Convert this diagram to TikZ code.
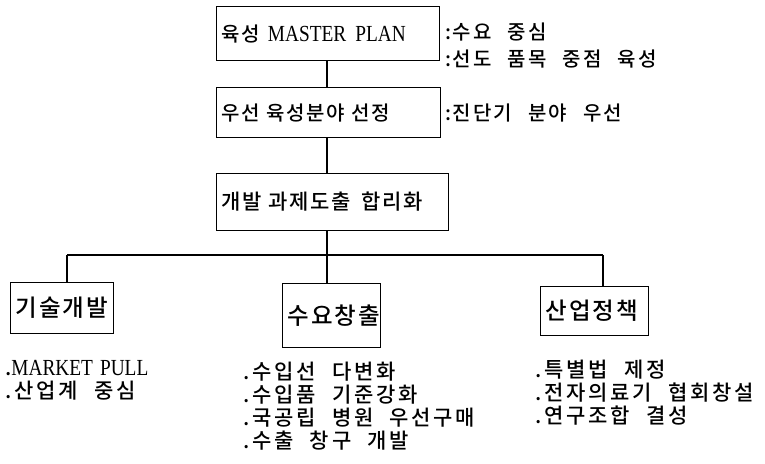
\documentclass[tikz,border=0pt]{standalone}
\usepackage{fontspec}
\setmainfont{Noto Sans CJK KR}[UprightFont=* Medium, WordSpace=2.6]
\newfontfamily\krA{Noto Sans CJK KR}[UprightFont=* Medium, WordSpace=2.4, LetterSpace=8]
\newfontfamily\krN{Noto Sans CJK KR}[UprightFont=* Medium, WordSpace=2.6, LetterSpace=9]
\newfontfamily\krB{Noto Sans CJK KR}[UprightFont=* Medium, WordSpace=2.2, LetterSpace=13]
\newfontfamily\lat{Liberation Serif}[FakeStretch=0.84]
\begin{document}
\begin{tikzpicture}[x=1pt,y=-1pt,
  every node/.style={font=\krA\fontsize{20}{23}\selectfont},
  box/.style={draw, line width=1.1pt, inner ysep=0pt, inner xsep=5pt, align=left, anchor=north west},
  big/.style={font=\krA\fontsize{23.5}{26}\selectfont},
  conn/.style={line width=1.1pt},
  note/.style={inner sep=0pt, anchor=west, align=left, font=\krN\fontsize{20}{23}\selectfont},
  list/.style={inner sep=0pt, anchor=north west, align=left, font=\krB\fontsize{21}{23}\selectfont}]
\useasboundingbox (0,0) rectangle (765,463);
% top chain
\node[box, text width=213pt, minimum height=54pt] (b1) at (216,6) {육성\hspace{8pt}{\lat\fontsize{23}{23}\selectfont MASTER\hspace{9pt}PLAN}};
\node[box, text width=214pt, minimum height=50pt] (b2) at (216,87) {우선 육성분야 선정};
\node[box, text width=222pt, minimum height=57pt] (b3) at (216,173) {\fontsize{21}{23}\selectfont 개발 과제도출\hspace{4pt} 합리화};
% notes
\node[note] (n1) at (445,32) {:수요 중심};
\node[note] (n2) at (445,59) {:선도 품목 중점 육성};
\node[note] (n3) at (445,113) {:진단기 분야 우선};
% branches
\node[box, big, text width=93pt, minimum height=51pt] (k1) at (10,282) {기술개발};
\node[box, big, text width=88pt, minimum height=64pt] (k2) at (282,283) {수요창출};
\node[box, big, text width=98pt, minimum height=49pt] (k3) at (540,286) {산업정책};
% connectors
\coordinate (j) at (327,255);
\coordinate (jl) at (67,255);
\coordinate (jr) at (603,255);
\draw[conn] (b1.south -| j) -- (b2.north -| j);
\draw[conn] (b2.south -| j) -- (b3.north -| j);
\draw[conn] (b3.south -| j) -- (j);
\draw[conn] (jl) -- (jr);
\draw[conn] (jl) -- (k1.north -| jl);
\draw[conn] (j) -- (k2.north -| j);
\draw[conn] (jr) -- (k3.north -| jr);
% lists
\node[list] (l1) at (5,360) {.{\lat\fontsize{23}{23}\selectfont MARKET\hspace{7pt}PULL}\\.산업계 중심};
\node[list] (l2) at (243,362) {.수입선 다변화\\.수입품 기준강화\\.국공립 병원 우선구매\\.수출 창구 개발};
\node[list] (l3) at (535,360) {.특별법 제정\\.전자의료기 협회창설\\.연구조합 결성};
\end{tikzpicture}
\end{document}
